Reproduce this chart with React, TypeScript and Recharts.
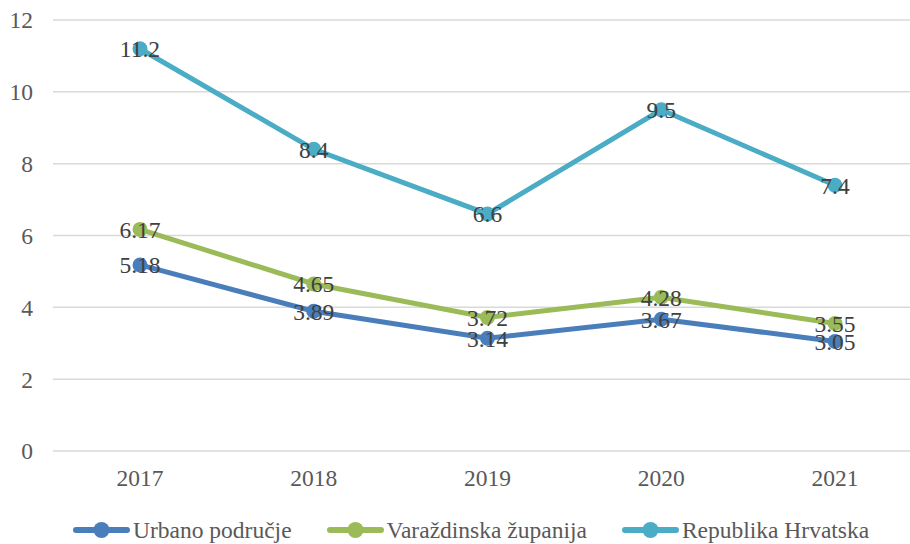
import { LineChart, Line, XAxis, YAxis, CartesianGrid, Legend, LabelList } from 'recharts';

const years = ['2017', '2018', '2019', '2020', '2021'];
const urbano = [5.18, 3.89, 3.14, 3.67, 3.05];
const varazdinska = [6.17, 4.65, 3.72, 4.28, 3.55];
const hrvatska = [11.2, 8.4, 6.6, 9.5, 7.4];
const yTicks = [0, 2, 4, 6, 8, 10, 12];

const seriesInfo = [
  { key: 'urbano', name: 'Urbano područje', color: '#4A7EBB' },
  { key: 'varazdinska', name: 'Varaždinska županija', color: '#9BBB59' },
  { key: 'hrvatska', name: 'Republika Hrvatska', color: '#4BACC6' },
];

const chartData = years.map((year, i) => ({
  year,
  urbano: urbano[i],
  varazdinska: varazdinska[i],
  hrvatska: hrvatska[i],
}));

const font = '"Liberation Serif", "Times New Roman", serif';
const fontSize = 23.5;

function LegendContent() {
  return (
    <div style={{ display: 'flex', justifyContent: 'flex-start', paddingLeft: 73, paddingTop: 12, fontFamily: font, fontSize, color: '#595959', lineHeight: '28px' }}>
      {seriesInfo.map((s) => (
        <div key={s.key} style={{ display: 'flex', alignItems: 'center', marginRight: 35 }}>
          <svg width={57} height={18} style={{ marginRight: 3 }}>
            <line x1={3} y1={9} x2={54} y2={9} stroke={s.color} strokeWidth={6} strokeLinecap="round" />
            <circle cx={28.5} cy={9} r={8} fill={s.color} />
          </svg>
          <span>{s.name}</span>
        </div>
      ))}
    </div>
  );
}

export default function App() {
  return (
    <div style={{ position: 'absolute', left: 0, top: 0, width: 910, height: 544, overflow: 'hidden', background: '#fff' }}>
      <LineChart width={922} height={544} data={chartData} margin={{ top: 20, right: 0, bottom: 0, left: 0 }}>
        <CartesianGrid vertical={false} stroke="#D9D9D9" strokeWidth={1.5} />
        <XAxis
          dataKey="year"
          axisLine={false}
          tickLine={false}
          tickSize={0}
          tickMargin={18}
          height={53}
          padding={{ left: 87, right: 87 }}
          tick={{ fill: '#595959', fontSize, fontFamily: font }}
        />
        <YAxis
          domain={[0, 12]}
          ticks={yTicks}
          axisLine={false}
          tickLine={false}
          tickSize={0}
          tickMargin={20}
          width={53}
          tick={{ fill: '#595959', fontSize, fontFamily: font }}
        />
        <Legend verticalAlign="bottom" height={40} content={<LegendContent />} />
        {seriesInfo.map((s) => (
          <Line
            key={s.key}
            dataKey={s.key}
            name={s.name}
            stroke={s.color}
            strokeWidth={5}
            dot={{ r: 7.5, fill: s.color, stroke: s.color, strokeWidth: 0 }}
            isAnimationActive={false}
          >
            <LabelList dataKey={s.key} position="center" fill="#404040" fontSize={fontSize} fontFamily={font} />
          </Line>
        ))}
      </LineChart>
    </div>
  );
}
